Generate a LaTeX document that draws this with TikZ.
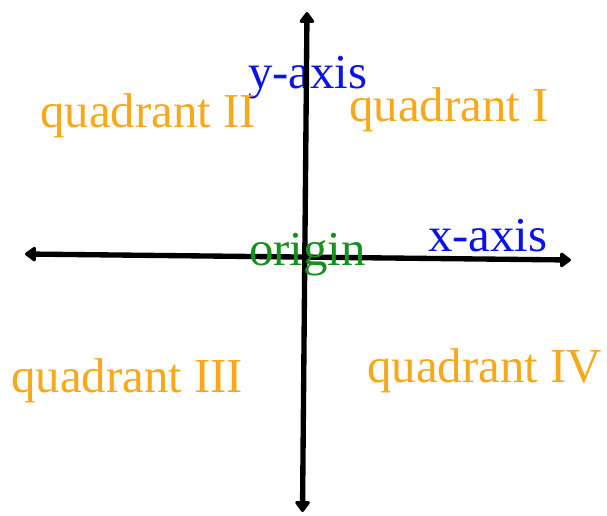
\documentclass[tikz,border=0pt]{standalone}
\usepackage{fontspec}
\setmainfont{Liberation Serif}
\usetikzlibrary{arrows.meta}
\definecolor{quadOrange}{HTML}{F7A81B}
\definecolor{axisBlue}{HTML}{0A14E6}
\definecolor{originGreen}{HTML}{18901E}

\begin{document}
\begin{tikzpicture}[
    x=0.025cm, y=-0.025cm,
    >={Triangle[length=0.3cm, width=0.42cm, round]},
    axis/.style={<->, line width=3.8pt, black},
    label/.style={anchor=base west, inner sep=0pt, font=\fontsize{34.7}{42}\selectfont},
    quad/.style={label, text=quadOrange},
    axisname/.style={label, text=axisBlue}
]
    \useasboundingbox (0,0) rectangle (607,515);

    % end points of the two axes
    \coordinate (yTop) at (307,12);
    \coordinate (yBot) at (302.5,512);
    \coordinate (xLeft) at (25,254);
    \coordinate (xRight) at (571,260);

    \node[axisname] (yLabel) at (248,88) {y-axis};

    \draw[axis] (xLeft) -- (xRight);
    \draw[axis] (yBot) -- (yTop);

    % labels
    \node[axisname] (xLabel) at (428,251) {x-axis};
    \node[label, text=originGreen] (origin) at (249,265) {origin};
    \node[quad] (q1) at (349,121) {quadrant I};
    \node[quad] (q2) at (40,127) {quadrant II};
    \node[quad] (q3) at (11,392) {quadrant III};
    \node[quad] (q4) at (367,382) {quadrant IV};
\end{tikzpicture}
\end{document}
